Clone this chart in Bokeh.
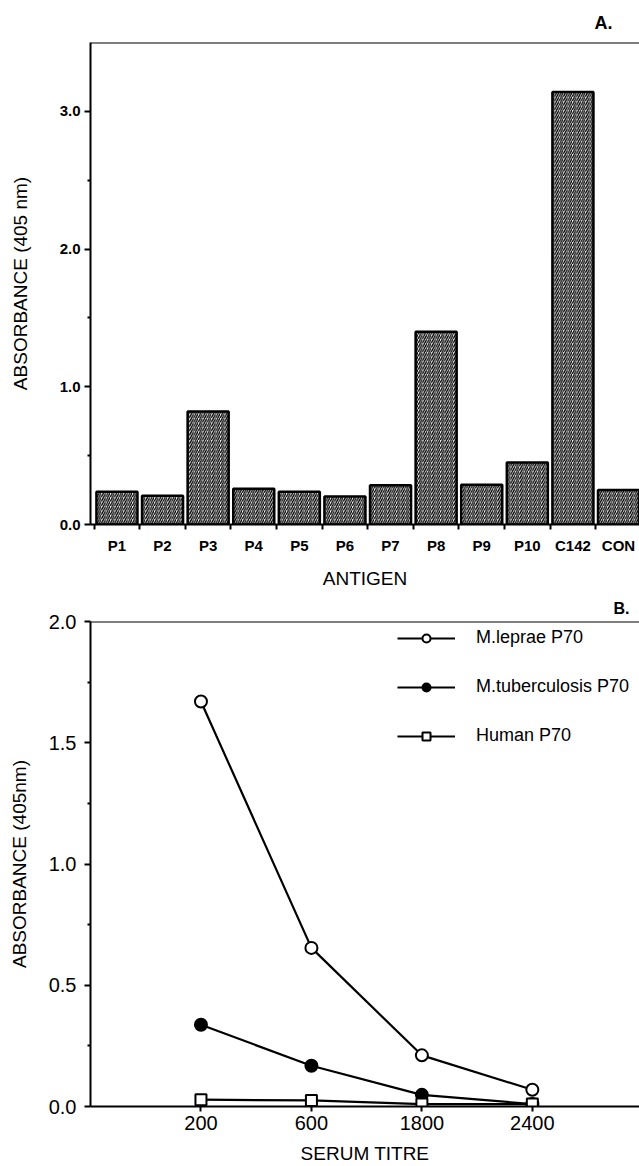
from bokeh.plotting import figure
from bokeh.models import (FixedTicker, PrintfTickFormatter, Span, Legend, LegendItem,
                          ColumnDataSource, Range1d)
from bokeh.layouts import column
from bokeh.embed import file_html
from bokeh.resources import INLINE

# ---------------- data ----------------
antigens = ["P1", "P2", "P3", "P4", "P5", "P6", "P7", "P8", "P9", "P10", "C142", "CON"]
absorbance_a = [0.237, 0.208, 0.82, 0.26, 0.237, 0.203, 0.285, 1.40, 0.288, 0.45, 3.14, 0.25]

titres = ["200", "600", "1800", "2400"]
leprae = [1.67, 0.654, 0.211, 0.069]
tuberculosis = [0.337, 0.168, 0.048, 0.01]
human = [0.028, 0.025, 0.01, 0.01]

FONT = "Liberation Sans"
W = 639

# ---------------- panel A ----------------
xa = list(range(1, len(antigens) + 1))
src_a = ColumnDataSource(dict(x=xa, top=absorbance_a))

pA = figure(width=W, height=591, output_backend="svg", toolbar_location=None,
            x_range=Range1d(0.42, 12.46), y_range=Range1d(0, 3.5),
            min_border_left=90, min_border_right=0, min_border_top=42, min_border_bottom=66)
pA.vbar(x="x", top="top", width=0.9, source=src_a, fill_color="white",
        line_color="black", line_width=2.5, hatch_pattern="right_diagonal_line",
        hatch_color="black", hatch_scale=4.4, hatch_weight=1.3)

pA.title.text = "A."
pA.title.align = "right"
pA.title.offset = 27
pA.title.standoff = 20
pA.title.text_font = FONT
pA.title.text_font_size = "18px"
pA.title.text_font_style = "bold"
pA.title.text_color = "black"

pA.xaxis.ticker = FixedTicker(ticks=xa, minor_ticks=[i + 0.5 for i in range(0, len(antigens))])
pA.xaxis.major_label_overrides = {i: lab for i, lab in zip(xa, antigens)}
pA.xaxis.major_tick_out = 0
pA.xaxis.major_tick_in = 0
pA.xaxis.minor_tick_out = 5
pA.xaxis.minor_tick_in = 0
pA.xaxis.major_label_standoff = 7
pA.xaxis.axis_label = "ANTIGEN"
pA.xaxis.axis_label_standoff = 11

pA.yaxis.ticker = FixedTicker(ticks=[0, 1, 2, 3], minor_ticks=[0.5, 1.5, 2.5])
pA.yaxis.formatter = PrintfTickFormatter(format="%.1f")
pA.yaxis.major_tick_out = 6
pA.yaxis.major_tick_in = 0
pA.yaxis.minor_tick_out = 3
pA.yaxis.minor_tick_in = 0
pA.yaxis.major_label_standoff = 4
pA.yaxis.axis_label = "ABSORBANCE (405 nm)"
pA.yaxis.axis_label_standoff = 26

for ax in (pA.xaxis, pA.yaxis):
    ax.major_label_text_font = FONT
    ax.major_label_text_font_size = "15px"
    ax.major_label_text_font_style = "bold"
    ax.major_label_text_color = "black"
    ax.axis_label_text_font = FONT
    ax.axis_label_text_font_size = "19px"
    ax.axis_label_text_font_style = "normal"
    ax.axis_label_text_color = "black"
    ax.axis_line_width = 2
    ax.axis_line_color = "black"
    ax.major_tick_line_width = 2
    ax.minor_tick_line_width = 2
    ax.major_tick_line_color = "black"
    ax.minor_tick_line_color = "black"

pA.grid.visible = False
pA.outline_line_color = None
pA.add_layout(Span(location=3.5, dimension="width", line_color="black", line_width=2))

# ---------------- panel B ----------------
xb = list(range(1, len(titres) + 1))

pB = figure(width=W, height=575, output_backend="svg", toolbar_location=None,
            x_range=Range1d(0, 4.97), y_range=Range1d(0, 2.0),
            min_border_left=90, min_border_right=0, min_border_top=30, min_border_bottom=60)

r_l_line = pB.line(xb, leprae, line_color="black", line_width=2.2)
r_t_line = pB.line(xb, tuberculosis, line_color="black", line_width=2.2)
r_h_line = pB.line(xb, human, line_color="black", line_width=2.2)
r_l_pts = pB.scatter(xb, leprae, marker="circle", size=12, fill_color="white",
                     line_color="black", line_width=2)
r_t_pts = pB.scatter(xb, tuberculosis, marker="circle", size=12, fill_color="black",
                     line_color="black", line_width=2)
r_h_pts = pB.scatter(xb, human, marker="square", size=11, fill_color="white",
                     line_color="black", line_width=2)

legend = Legend(items=[
    LegendItem(label="M.leprae P70", renderers=[r_l_line, r_l_pts]),
    LegendItem(label="M.tuberculosis P70", renderers=[r_t_line, r_t_pts]),
    LegendItem(label="Human P70", renderers=[r_h_line, r_h_pts]),
], location=(307, 360), glyph_width=58, glyph_height=20, label_height=20,
   label_standoff=21, spacing=28, padding=0, margin=0,
   border_line_color=None, background_fill_alpha=0,
   label_text_font=FONT, label_text_font_size="18px", label_text_color="black")
pB.add_layout(legend)

pB.title.text = "B."
pB.title.align = "right"
pB.title.offset = 10
pB.title.standoff = 9
pB.title.text_font = FONT
pB.title.text_font_size = "16px"
pB.title.text_font_style = "bold"
pB.title.text_color = "black"

pB.xaxis.ticker = FixedTicker(ticks=xb)
pB.xaxis.major_label_overrides = {i: lab for i, lab in zip(xb, titres)}
pB.xaxis.major_tick_out = 5
pB.xaxis.major_tick_in = 0
pB.xaxis.major_label_standoff = 4
pB.xaxis.axis_label = "SERUM TITRE"
pB.xaxis.axis_label_standoff = 10

pB.yaxis.ticker = FixedTicker(ticks=[0, 0.5, 1.0, 1.5, 2.0], minor_ticks=[0.25, 0.75, 1.25, 1.75])
pB.yaxis.formatter = PrintfTickFormatter(format="%.1f")
pB.yaxis.major_tick_out = 6
pB.yaxis.major_tick_in = 0
pB.yaxis.minor_tick_out = 3
pB.yaxis.minor_tick_in = 0
pB.yaxis.major_label_standoff = 8
pB.yaxis.axis_label = "ABSORBANCE (405nm)"
pB.yaxis.axis_label_standoff = 16

for ax in (pB.xaxis, pB.yaxis):
    ax.major_label_text_font = FONT
    ax.major_label_text_font_size = "20px"
    ax.major_label_text_font_style = "normal"
    ax.major_label_text_color = "black"
    ax.axis_label_text_font = FONT
    ax.axis_label_text_font_size = "19px"
    ax.axis_label_text_font_style = "normal"
    ax.axis_label_text_color = "black"
    ax.axis_line_width = 2
    ax.axis_line_color = "black"
    ax.major_tick_line_width = 2
    ax.minor_tick_line_width = 2
    ax.major_tick_line_color = "black"
    ax.minor_tick_line_color = "black"

pB.grid.visible = False
pB.outline_line_color = None
pB.add_layout(Span(location=2.0, dimension="width", line_color="black", line_width=2))

layout = column(pA, pB, spacing=0)
open("out.html", "w").write(file_html(layout, INLINE))
